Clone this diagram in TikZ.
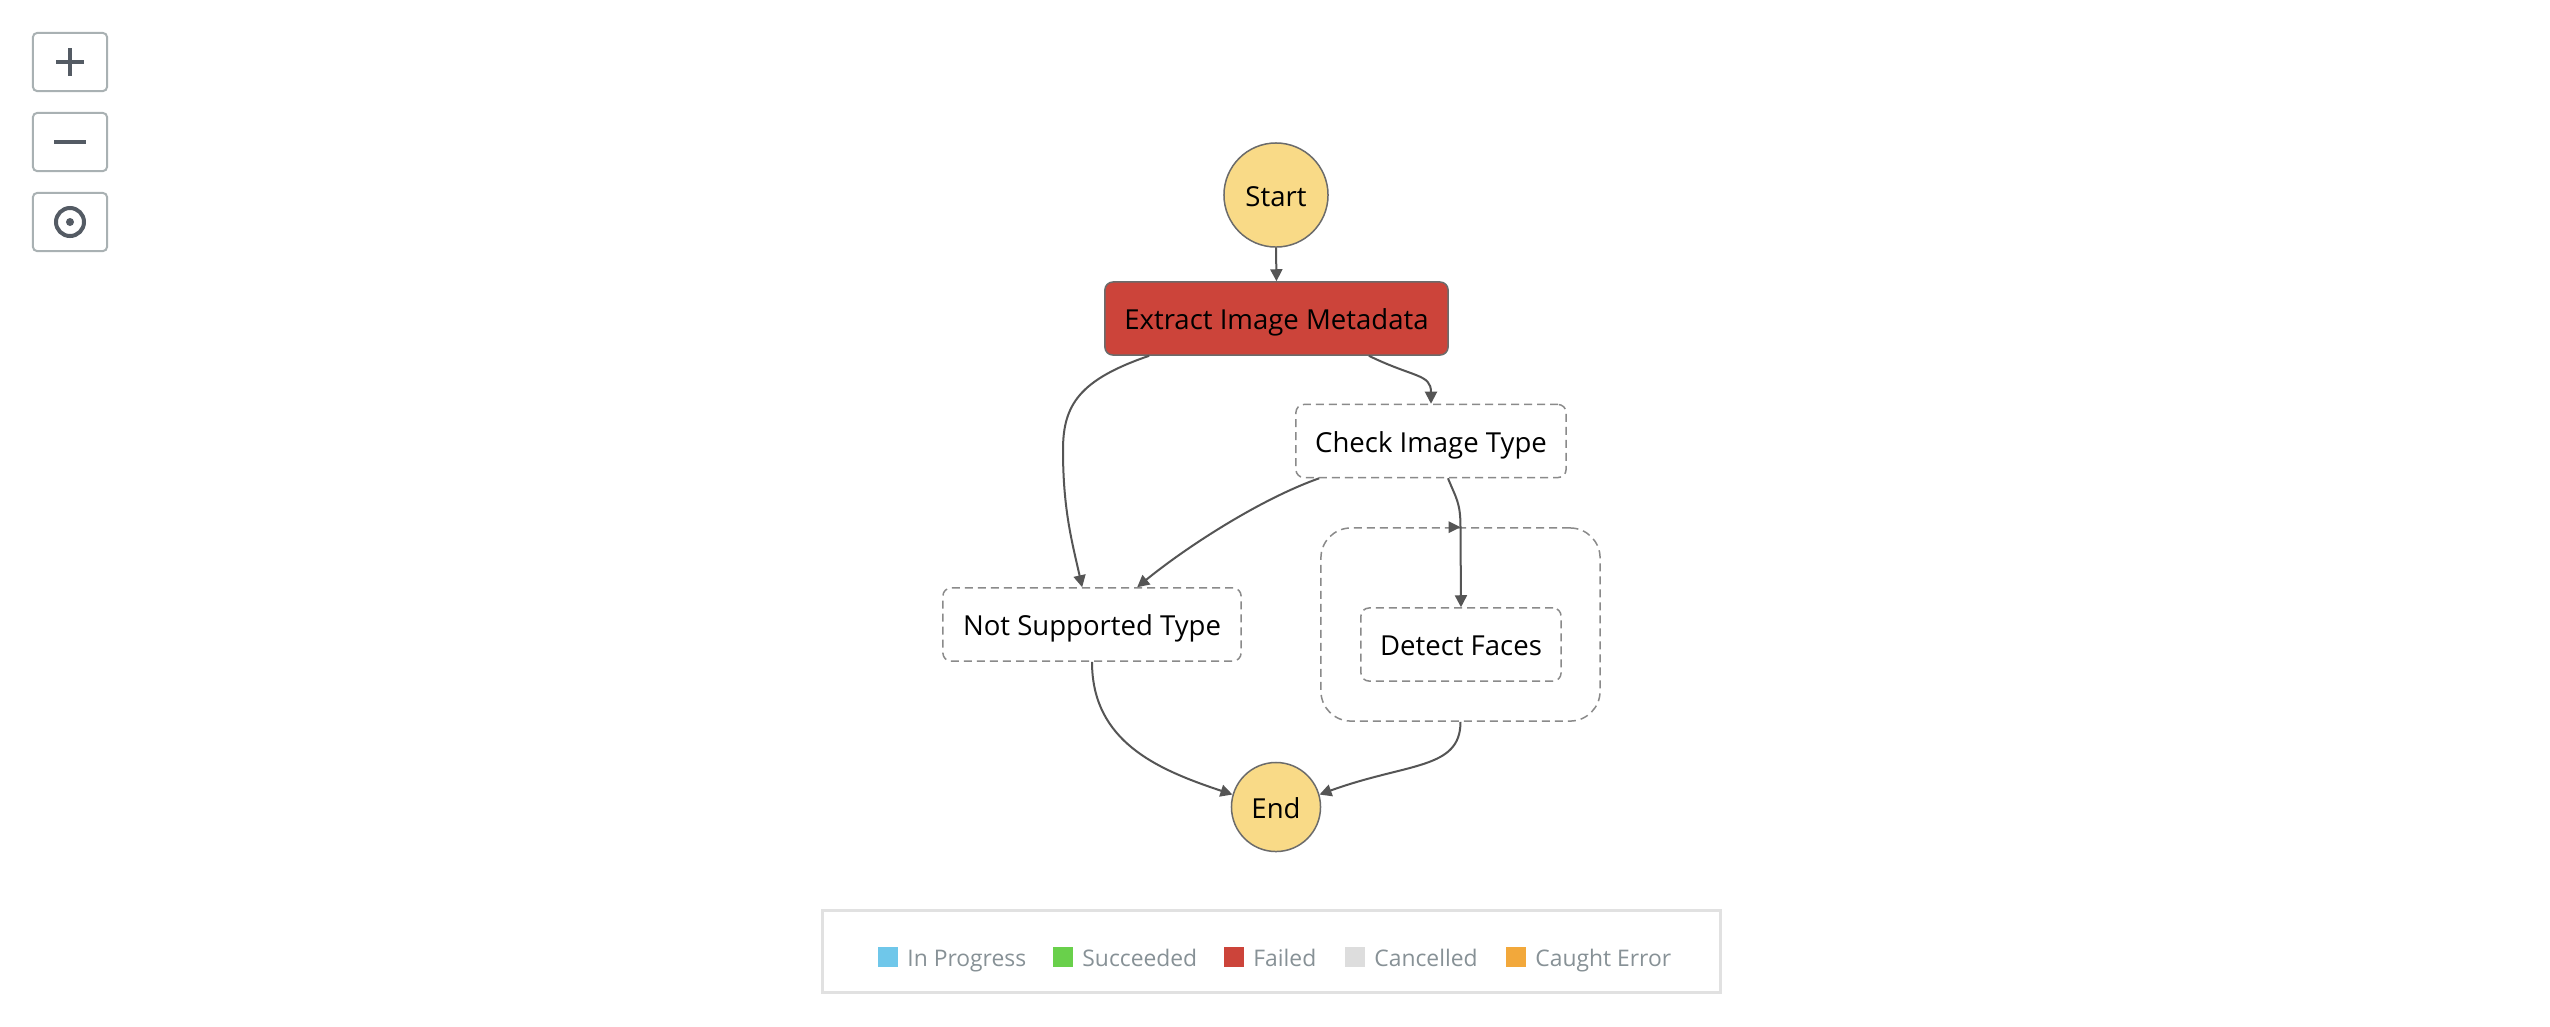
\documentclass[tikz,border=0pt]{standalone}
\usepackage{fontspec}
\setmainfont{Open Sans}
\usetikzlibrary{positioning,calc,arrows.meta}
\definecolor{termfill}{HTML}{F9DA87}
\definecolor{failedred}{HTML}{CC443A}
\definecolor{nodeline}{HTML}{6B6B6B}
\definecolor{dashgray}{HTML}{8A8A8A}
\definecolor{flowgray}{HTML}{555555}
\definecolor{btngray}{HTML}{A9B1B3}
\definecolor{icongray}{HTML}{545B64}
\definecolor{legendline}{HTML}{E1E1E1}
\definecolor{legendtext}{HTML}{879196}
\definecolor{inprogress}{HTML}{6FC7EA}
\definecolor{succeeded}{HTML}{69D04B}
\definecolor{cancelled}{HTML}{DDDDDD}
\definecolor{caught}{HTML}{F2A83B}

\begin{document}
\begin{tikzpicture}[x=0.01cm,y=-0.01cm,
    every node/.style={font=\fontsize{7.83}{9}\selectfont, inner sep=0pt,
        text height=0.22cm, text depth=0pt},
    terminal/.style={circle, draw=nodeline, fill=termfill, line width=0.015cm},
    failedstate/.style={rectangle, rounded corners=0.08cm, draw=nodeline,
        fill=failedred, line width=0.015cm, minimum height=0.73cm},
    idlestate/.style={rectangle, rounded corners=0.08cm, draw=dashgray, fill=white,
        dash pattern=on 0.08cm off 0.05cm, line width=0.015cm, minimum height=0.73cm},
    flow/.style={draw=flowgray, line width=0.02cm,
        -{Triangle[length=0.12cm,width=0.12cm]}},
    zoombtn/.style={draw=btngray, line width=0.02cm, rounded corners=0.04cm,
        minimum width=0.74cm, minimum height=0.58cm},
    icon/.style={draw=icongray, line width=0.04cm},
    legsq/.style={minimum size=0.2cm, text height=0pt},
    legtxt/.style={font=\fontsize{6.5}{8}\selectfont, text=legendtext,
        anchor=base west, text height=, text depth=}
]
\useasboundingbox (0,0) rectangle (2550,1026);
\fill[white] (0,0) rectangle (2550,1026);

% zoom controls
\node[zoombtn] (zoomin) at (70,62) {};
\node[zoombtn] (zoomout) at (70,142) {};
\node[zoombtn] (recenter) at (70,222) {};
\draw[icon] ($(zoomin)+(-14,0)$) -- ($(zoomin)+(14,0)$);
\draw[icon] ($(zoomin)+(0,-14)$) -- ($(zoomin)+(0,14)$);
\draw[icon] ($(zoomout)+(-16,0)$) -- ($(zoomout)+(16,0)$);
\draw[icon] (recenter) circle (0.14cm);
\fill[icongray] (recenter) circle (0.04cm);

% states
\node[terminal, minimum size=1.04cm] (start) at (1276,195) {Start};
\node[failedstate, minimum width=3.43cm] (ext) at (1276.5,318.5) {Extract Image Metadata};
\node[idlestate, minimum width=2.70cm] (check) at (1431,441) {Check Image Type};
\node[idlestate, minimum width=2.98cm] (notsup) at (1092,624.5) {Not Supported Type};
\node[idlestate, rounded corners=0.3cm, minimum width=2.79cm, minimum height=1.93cm] (par) at (1460.5,624.5) {};
\node[idlestate, minimum width=2.00cm] (detect) at (1461,644.5) {Detect Faces};
\node[terminal, minimum size=0.89cm] (end) at (1276,807) {End};

% transitions
\draw[flow] (start.south) -- (ext.north);
\draw[flow] ($(ext.south west)+(45,0)$) .. controls +(-70,24) and +(0,-45) .. (1063,450)
    .. controls +(0,60) and +(-10,-45) .. ($(notsup.north west)+(140,0)$);
\draw[flow] ($(ext.south east)+(-80,0)$) .. controls +(45,22) and +(0,-30) .. (check.north);
\draw[flow] ($(check.south west)+(24,0)$) .. controls +(-62,22) and +(45,-37) .. ($(notsup.north west)+(195,0)$);
\draw[draw=flowgray, line width=0.02cm] ($(check.south)+(17,0)$) .. controls +(8,20) and +(0,-25) .. (par.north);
\fill[flowgray] (par.north) -- ++(-12,-6) -- ++(0,12) -- cycle;
\draw[flow] (par.north) -- (detect.north);
\draw[flow] (notsup.south) .. controls +(0,80) and +(-75,-25) .. (end.164);
\draw[flow] (par.south) .. controls +(0,48) and +(88,-32) .. (end.16);

% legend
\node[draw=legendline, line width=0.03cm, minimum width=8.97cm, minimum height=0.81cm] (legend) at (1271.5,951.5) {};
\node[legsq, fill=inprogress] (sqprog) at (888,956.5) {};
\node[legtxt] (txprog) at ($(sqprog.east)+(8,9.5)$) {In Progress};
\node[legsq, fill=succeeded] (sqsucc) at (1063,956.5) {};
\node[legtxt] (txsucc) at ($(sqsucc.east)+(8,9.5)$) {Succeeded};
\node[legsq, fill=failedred] (sqfail) at (1234,956.5) {};
\node[legtxt] (txfail) at ($(sqfail.east)+(8,9.5)$) {Failed};
\node[legsq, fill=cancelled] (sqcanc) at (1355,956.5) {};
\node[legtxt] (txcanc) at ($(sqcanc.east)+(8,9.5)$) {Cancelled};
\node[legsq, fill=caught] (sqcaught) at (1516,956.5) {};
\node[legtxt] (txcaught) at ($(sqcaught.east)+(8,9.5)$) {Caught Error};
\end{tikzpicture}
\end{document}
